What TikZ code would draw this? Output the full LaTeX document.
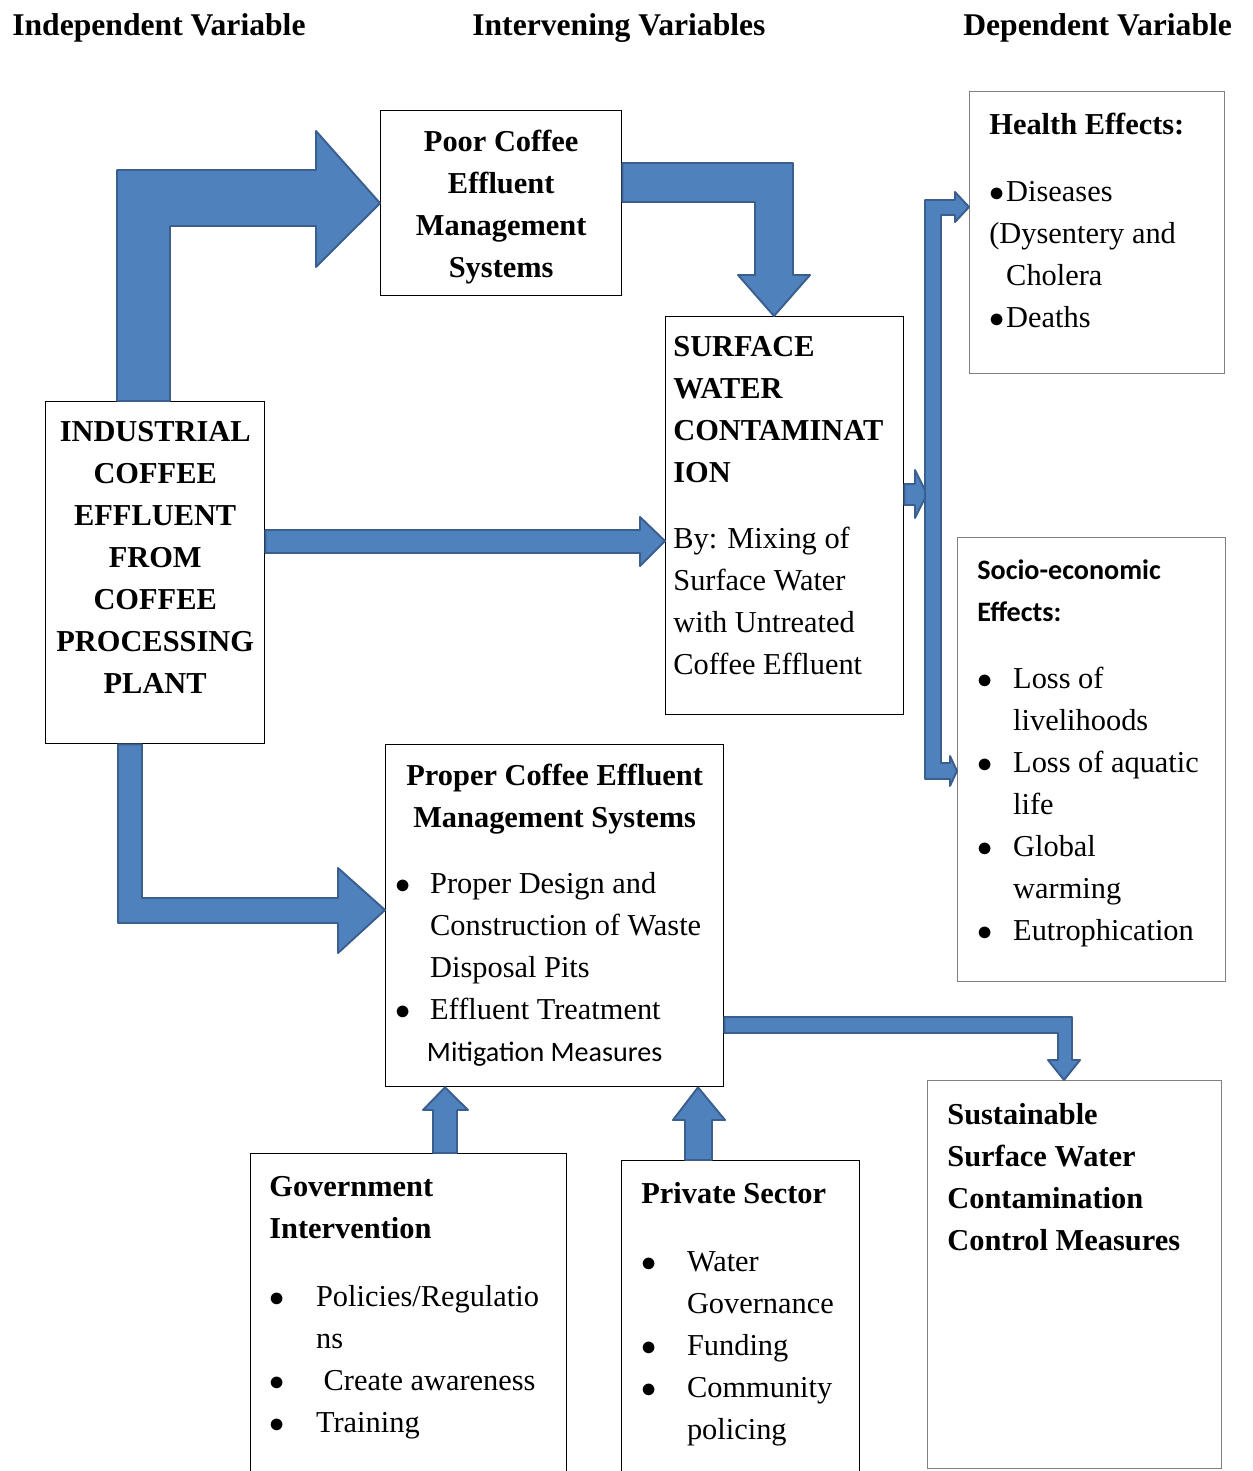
\documentclass[tikz,border=0pt]{standalone}
\usepackage{fontspec}
\setmainfont{Liberation Serif}
\newfontfamily\calib{Carlito}
\usetikzlibrary{calc}
\definecolor{arrowblue}{HTML}{4F81BD}
\definecolor{arrowedge}{HTML}{3A5F8E}
\newcommand{\bul}[1]{\makebox[#1][l]{$\bullet$}}
\newcommand{\calibb}{\calib\bfseries\fontsize{16}{23.9}\selectfont}
\newcommand{\calibr}{\calib\fontsize{16}{23.9}\selectfont}

\begin{document}
\begin{tikzpicture}[x=0.02cm, y=-0.02cm,
    box/.style={draw=black, line width=0.8pt, inner sep=0pt, anchor=north west},
    greybox/.style={box, draw=black!50},
    txt/.style={inner sep=0pt, anchor=north west, align=left, font=\fontsize{17.3}{23.9}\selectfont},
    ctxt/.style={txt, anchor=north, align=center, font=\bfseries\fontsize{17.3}{23.9}\selectfont},
    hdr/.style={inner sep=0pt, anchor=north west, font=\bfseries\fontsize{18}{22}\selectfont},
    blockarrow/.style={fill=arrowblue, draw=arrowedge, line width=1.1pt, line join=round}]
  \useasboundingbox (0,0) rectangle (1252,1471);
  \clip (0,0) rectangle (1252,1471);

  % column headings
  \node[hdr] (hindep) at (12,13) {Independent Variable};
  \node[hdr] (hinter) at (472,13) {Intervening Variables};
  \node[hdr] (hdep) at (963,13) {Dependent Variable};

  % boxes
  \node[box, minimum width=4.38cm, minimum height=6.84cm] (ind) at (45,401) {};
  \node[box, minimum width=4.82cm, minimum height=3.70cm] (poor) at (380,110) {};
  \node[box, minimum width=4.76cm, minimum height=7.96cm] (surf) at (665,316) {};
  \node[greybox, minimum width=5.10cm, minimum height=5.64cm] (health) at (969,91) {};
  \node[greybox, minimum width=5.36cm, minimum height=8.88cm] (socio) at (957,537) {};
  \node[box, minimum width=6.76cm, minimum height=6.84cm] (proper) at (385,744) {};
  \node[box, minimum width=6.32cm, minimum height=6.94cm] (gov) at (250,1153) {};
  \node[box, minimum width=4.76cm, minimum height=6.80cm] (priv) at (621,1160) {};
  \node[greybox, minimum width=5.88cm, minimum height=7.76cm] (sust) at (927,1080) {};

  % texts
  \node[ctxt] (indtext) at ($(ind.north)+(0,20)$)
    {INDUSTRIAL\\COFFEE\\EFFLUENT\\FROM\\COFFEE\\PROCESSING\\PLANT};
  \node[ctxt] (poortext) at ($(poor.north)+(0,20)$)
    {Poor Coffee\\Effluent\\Management\\Systems};
  \node[txt] (surftext) at ($(surf.north west)+(8,20)$)
    {\textbf{SURFACE}\\\textbf{WATER}\\\textbf{CONTAMINAT}\\\textbf{ION}\\[13.6pt]
     By: Mixing of\\Surface Water\\with Untreated\\Coffee Effluent};
  \node[txt] (healthtext) at ($(health.north west)+(20,22)$)
    {\textbf{Health Effects:}\\[14.2pt]
     \bul{9.6pt}Diseases\\(Dysentery and\\\hspace*{9.6pt}Cholera\\\bul{9.6pt}Deaths};
  \node[txt] (sociotext) at ($(socio.north west)+(20,22)$)
    {{\calibb Socio-economic}\\{\calibb Effects:}\\[14.7pt]
     \bul{20.4pt}Loss of\\\hspace*{20.4pt}livelihoods\\
     \bul{20.4pt}Loss of aquatic\\\hspace*{20.4pt}life\\
     \bul{20.4pt}Global\\\hspace*{20.4pt}warming\\
     \bul{20.4pt}Eutrophication};
  \node[ctxt] (propertitle) at ($(proper.north)+(0,20)$)
    {Proper Coffee Effluent\\Management Systems};
  \node[txt] (propertext) at ($(proper.north west)+(10,128)$)
    {\bul{19.8pt}Proper Design and\\\hspace*{19.8pt}Construction of Waste\\
     \hspace*{19.8pt}Disposal Pits\\\bul{19.8pt}Effluent Treatment\\
     \hspace*{18pt}{\calibr Mitigation Measures}};
  \node[txt] (govtext) at ($(gov.north west)+(19,23)$)
    {\textbf{Government}\\\textbf{Intervention}\\[15pt]
     \bul{26.6pt}Policies/Regulatio\\\hspace*{26.6pt}ns\\
     \bul{26.6pt} Create awareness\\\bul{26.6pt}Training};
  \node[txt] (privtext) at ($(priv.north west)+(20,22)$)
    {\textbf{Private Sector}\\[14.7pt]
     \bul{26pt}Water\\\hspace*{26pt}Governance\\\bul{26pt}Funding\\
     \bul{26pt}Community\\\hspace*{26pt}policing};
  \node[txt, font=\bfseries\fontsize{17.3}{23.9}\selectfont] (susttext) at ($(sust.north west)+(20,23)$)
    {Sustainable\\Surface Water\\Contamination\\Control Measures};

  % block arrows
  \draw[blockarrow] (117,0 |- ind.north) -- (117,170) -- (316,170) -- (316,131) -- (poor.west)
    -- (316,267) -- (316,226) -- (170,226) -- (170,0 |- ind.north) -- cycle;
  \draw[blockarrow] (poor.east |- 0,163) -- (793,163) -- (793,275) -- (810,275) -- (774,0 |- surf.north)
    -- (738,275) -- (755,275) -- (755,202) -- (poor.east |- 0,202) -- cycle;
  \draw[blockarrow] (ind.east |- 0,530) -- (640,530) -- (640,517) -- (surf.west |- 0,541)
    -- (640,566) -- (640,553) -- (ind.east |- 0,553) -- cycle;
  \draw[blockarrow] (surf.east |- 0,484) -- (915,484) -- (915,470) -- (927,494)
    -- (915,518) -- (915,505) -- (surf.east |- 0,505) -- cycle;
  \draw[blockarrow] (925,779) -- (925,200) -- (955,200) -- (955,192) -- (health.west |- 0,207)
    -- (955,222) -- (955,215) -- (941,215) -- (941,763) -- (950,763) -- (950,756)
    -- (socio.west |- 0,771) -- (950,786) -- (950,779) -- cycle;
  \draw[blockarrow] (118,0 |- ind.south) -- (118,923) -- (338,923) -- (338,953) -- (proper.west |- 0,910)
    -- (338,868) -- (338,898) -- (142,898) -- (142,0 |- ind.south) -- cycle;
  \draw[blockarrow] (proper.east |- 0,1017) -- (1072,1017) -- (1072,1060) -- (1080,1060) -- (1064,0 |- sust.north)
    -- (1048,1060) -- (1058,1060) -- (1058,1033) -- (proper.east |- 0,1033) -- cycle;
  \draw[blockarrow] (433,0 |- gov.north) -- (433,1110) -- (423,1110) -- (445,0 |- proper.south)
    -- (468,1110) -- (457,1110) -- (457,0 |- gov.north) -- cycle;
  \draw[blockarrow] (685,0 |- priv.north) -- (685,1120) -- (673,1120) -- (698,0 |- proper.south)
    -- (725,1120) -- (712,1120) -- (712,0 |- priv.north) -- cycle;
\end{tikzpicture}
\end{document}
